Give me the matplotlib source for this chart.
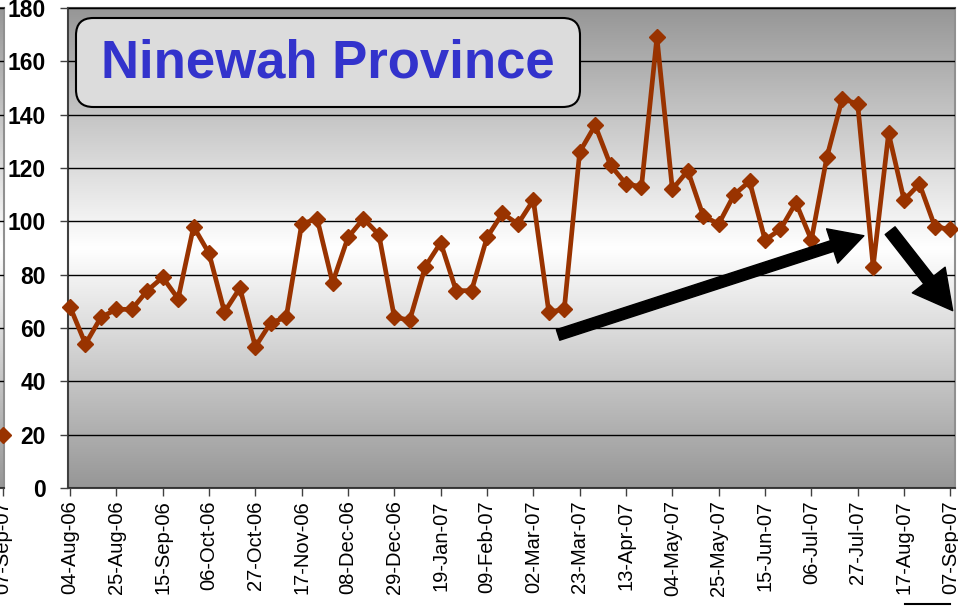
import numpy as np
import matplotlib
matplotlib.use("Agg")
import matplotlib.pyplot as plt
from matplotlib.patches import FancyArrowPatch, FancyBboxPatch
from matplotlib.lines import Line2D

plt.rcParams['font.family'] = ['Liberation Sans', 'DejaVu Sans']

# ---- data ----
title_text = "Ninewah Province"
weeks = ["04-Aug-06", "11-Aug-06", "18-Aug-06", "25-Aug-06", "01-Sep-06", "08-Sep-06",
         "15-Sep-06", "22-Sep-06", "29-Sep-06", "06-Oct-06", "13-Oct-06", "20-Oct-06",
         "27-Oct-06", "03-Nov-06", "10-Nov-06", "17-Nov-06", "24-Nov-06", "01-Dec-06",
         "08-Dec-06", "15-Dec-06", "22-Dec-06", "29-Dec-06", "05-Jan-07", "12-Jan-07",
         "19-Jan-07", "26-Jan-07", "02-Feb-07", "09-Feb-07", "16-Feb-07", "23-Feb-07",
         "02-Mar-07", "09-Mar-07", "16-Mar-07", "23-Mar-07", "30-Mar-07", "06-Apr-07",
         "13-Apr-07", "20-Apr-07", "27-Apr-07", "04-May-07", "11-May-07", "18-May-07",
         "25-May-07", "01-Jun-07", "08-Jun-07", "15-Jun-07", "22-Jun-07", "29-Jun-07",
         "06-Jul-07", "13-Jul-07", "20-Jul-07", "27-Jul-07", "03-Aug-07", "10-Aug-07",
         "17-Aug-07", "24-Aug-07", "31-Aug-07", "07-Sep-07"]
values = [68, 54, 64, 67, 67, 74, 79, 71, 98, 88, 66, 75, 53, 62, 64, 99, 101, 77,
          94, 101, 95, 64, 63, 83, 92, 74, 74, 94, 103, 99, 108, 66, 67, 126, 136, 121,
          114, 113, 169, 112, 119, 102, 99, 110, 115, 93, 97, 107, 93, 124, 146, 144,
          83, 133, 108, 114, 98, 97]
# tail of the neighbouring (cropped) chart on the left
prev_last_label = "07-Sep-07"
prev_last_value = 20

yticks = list(range(0, 181, 20))
line_color = "#993300"

W, H = 958, 608
fig = plt.figure(figsize=(W / 100, H / 100), dpi=100)

x = np.arange(len(values))
xlim = (-0.13, 57.3)


def gradient_bg(ax):
    t = np.linspace(0, 1, 256)
    g = 0.59 + 0.41 * (1 - np.abs(t - 0.5) / 0.5)
    g = np.clip(g, 0, 1)
    g2 = np.tile(g[:, None], (1, 2))
    img = np.dstack([g2, g2, g2])
    ax.imshow(img, extent=[0, 1, 0, 1], transform=ax.transAxes, aspect='auto',
              zorder=0, origin='lower', interpolation='bilinear')


def style_axes(ax):
    ax.set_ylim(0, 180)
    ax.set_yticks(yticks)
    ax.grid(axis='y', color='black', linewidth=1.0, zorder=1)
    ax.set_axisbelow(False)
    for s in ['left', 'bottom', 'top']:
        ax.spines[s].set_color('#404040')
        ax.spines[s].set_linewidth(1.5)
    ax.spines['right'].set_color('#909090')
    ax.spines['right'].set_linewidth(1.5)
    ax.tick_params(axis='y', length=6, width=1, color='#404040', pad=10)
    ax.tick_params(axis='x', length=6, width=1, color='#404040', pad=3)


# ---- cropped neighbouring chart at far left ----
ax0 = fig.add_axes([-0.2, 0.197, 0.2 + 4 / W, 0.79])
gradient_bg(ax0)
style_axes(ax0)
ax0.set_xlim(xlim)
ax0.plot([x[-1]], [prev_last_value], marker='D', color=line_color, markersize=8, zorder=3,
         clip_on=False)
ax0.set_xticks([x[-1]])
ax0.set_xticklabels([prev_last_label], rotation=90, fontsize=14.5)
ax0.set_yticklabels([])
ax0.tick_params(axis='y', length=0)

# ---- main chart ----
ax = fig.add_axes([68 / W, (H - 488) / H, (955 - 68) / W, 480 / H])
gradient_bg(ax)
style_axes(ax)
ax.set_xlim(xlim)
ax.plot(x, values, color=line_color, linewidth=3.4, marker='D', markersize=8.5,
        markerfacecolor=line_color, markeredgecolor=line_color, zorder=3, clip_on=False)
ax.set_xticks(x[::3])
ax.set_xticklabels(weeks[::3], rotation=90, fontsize=14.5)
ax.set_yticklabels([str(v) for v in yticks], fontsize=16.5, fontweight='bold')

# title box
box = FancyBboxPatch((76 / W, (H - 107) / H), (580 - 76) / W, (107 - 18) / H,
                     boxstyle="round,pad=0,rounding_size=0.018",
                     transform=fig.transFigure, facecolor='#dcdcdc', edgecolor='black',
                     linewidth=1.5, zorder=5, mutation_aspect=W / H)
fig.add_artist(box)
fig.text(328 / W, (H - 64) / H, title_text, ha='center', va='center', fontsize=38,
         fontweight='bold', color='#3333cc', zorder=6)

# trend arrows
a1 = FancyArrowPatch((31.6, 57.4), (51.4, 94.6),
                     arrowstyle="simple,head_length=24,head_width=26,tail_width=8",
                     mutation_scale=1, color='black', shrinkA=0, shrinkB=0, zorder=4)
ax.add_patch(a1)
a2 = FancyArrowPatch((53.1, 96.5), (57.15, 66.5),
                     arrowstyle="simple,head_length=28,head_width=30,tail_width=9",
                     mutation_scale=1, color='black', shrinkA=0, shrinkB=0, zorder=4,
                     clip_on=False)
ax.add_patch(a2)

fig.add_artist(Line2D([905 / W, 950 / W], [(H - 604) / H] * 2, color='black', linewidth=1.5,
                      transform=fig.transFigure))

fig.savefig("out.png", dpi=100, facecolor='white')
